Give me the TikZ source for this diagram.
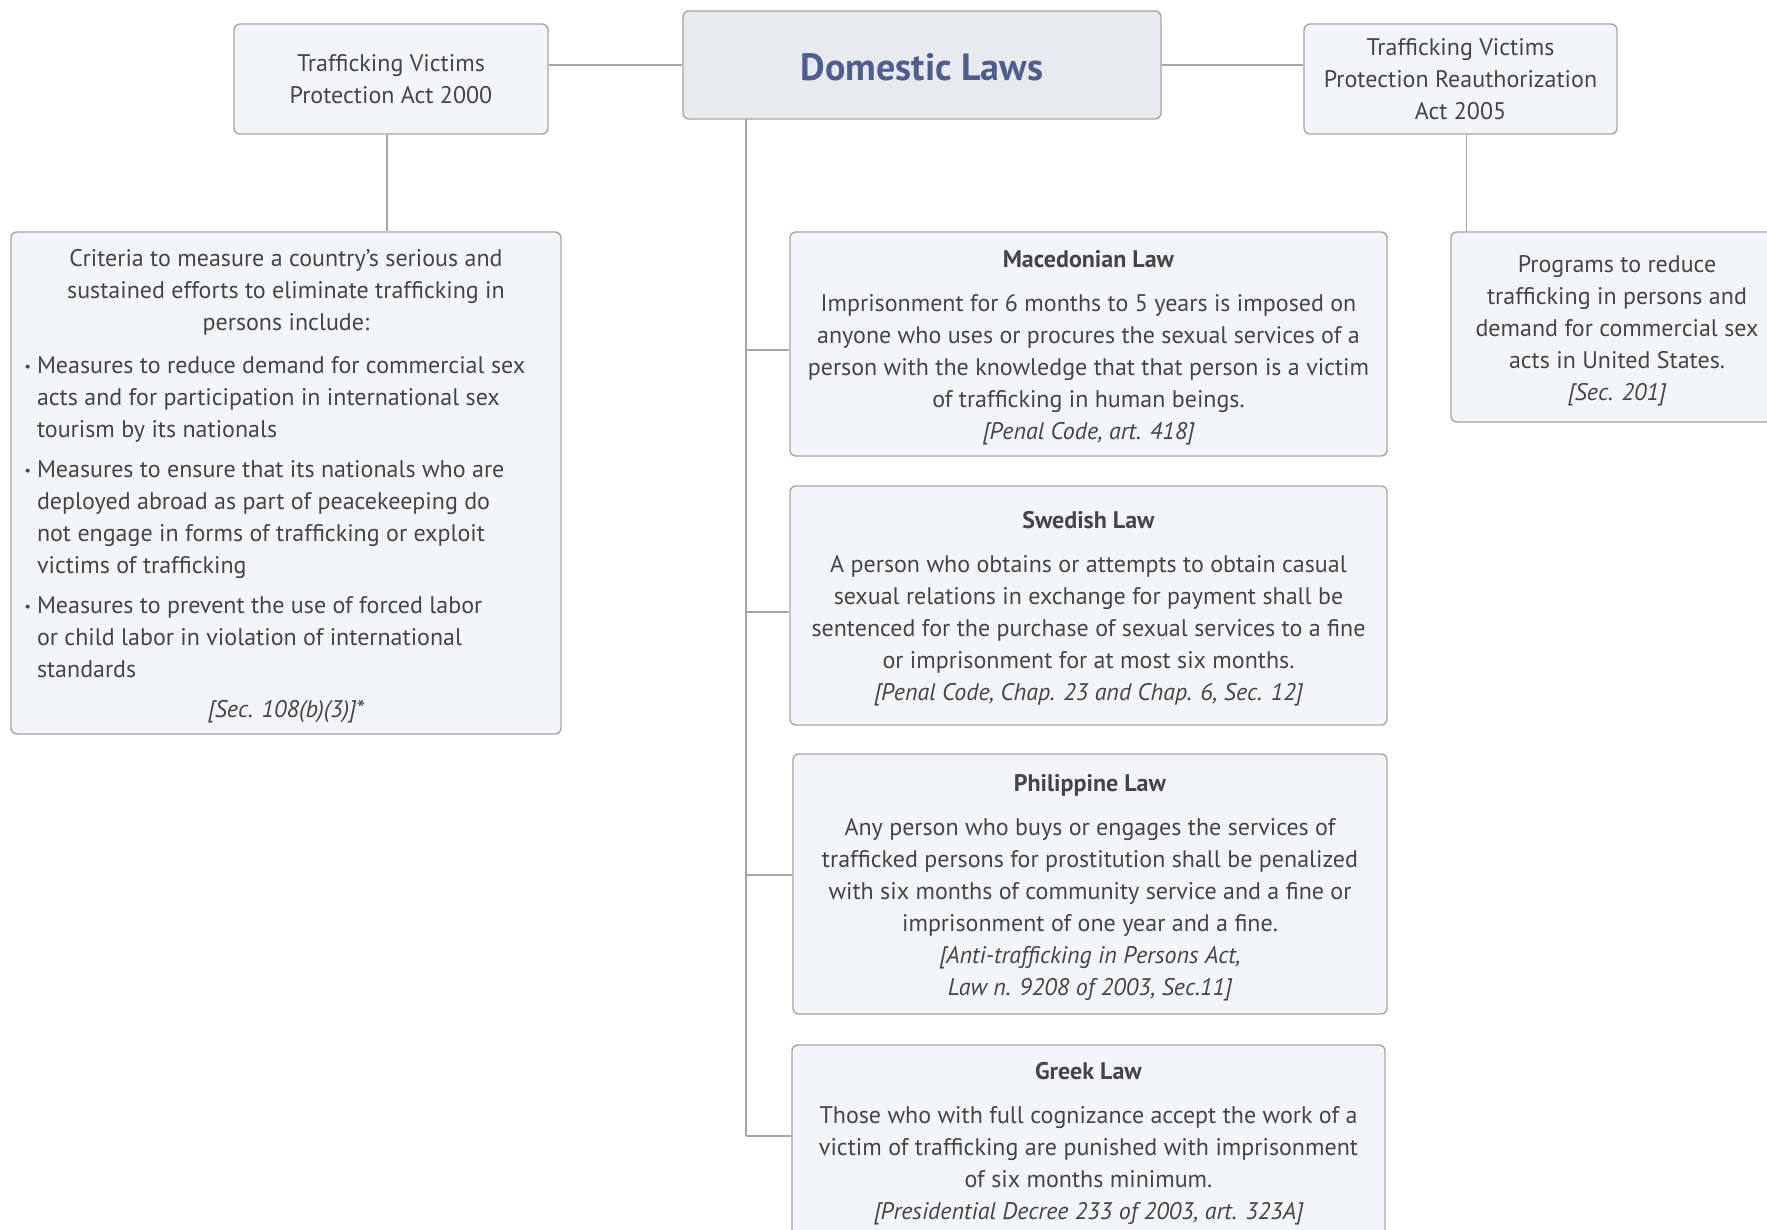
\documentclass[tikz,border=0pt]{standalone}
\usepackage{fontspec}
\setmainfont{PT Sans}

\definecolor{linegray}{HTML}{A6A6A6}
\definecolor{boxfill}{HTML}{F4F5F9}
\definecolor{rootfill}{HTML}{E9EAF0}
\definecolor{textgray}{HTML}{454545}
\definecolor{rootblue}{HTML}{4F5E8F}

\newcommand{\itemdot}{\llap{\raisebox{1pt}{\fontsize{7}{7}\selectfont •}\hspace{3pt}}}
\newcommand{\topstrut}{\rule{0pt}{12pt}}

\tikzset{
    lawbox/.style={draw=linegray, line width=0.7pt, fill=boxfill, rounded corners=3pt,
        text=textgray, align=center, font=\fontsize{12}{16}\selectfont},
    link/.style={draw=linegray, line width=0.6pt}
}

\begin{document}
\begin{tikzpicture}[x=0.5pt, y=-0.5pt]

    \useasboundingbox (0,0) rectangle (1767,1230);

    \node [lawbox, fill=rootfill, minimum width=239pt, minimum height=54pt,
        text=rootblue, font=\fontsize{19}{22}\selectfont\bfseries] (root) at (922,65)
        {\rule{0pt}{16pt}Domestic Laws};

    \node [lawbox, minimum width=157pt, minimum height=55pt] (tvpa) at (391,79)
        {Trafficking Victims\\Protection Act 2000};
    \node [lawbox, minimum width=156.5pt, minimum height=55pt] (tvpra) at (1460.5,79)
        {Trafficking Victims\\Protection Reauthorization\\Act 2005};

    \node [lawbox, align=left, minimum width=275pt, minimum height=251pt, inner xsep=13pt] (crit) at (286,483)
        {\makebox[249pt]{\topstrut Criteria to measure a country’s serious and}\\
         \makebox[249pt]{sustained efforts to eliminate trafficking in}\\
         \makebox[249pt]{persons include:}\\[5.5pt]
         \itemdot Measures to reduce demand for commercial sex\\
         acts and for participation in international sex\\
         tourism by its nationals\\[4pt]
         \itemdot Measures to ensure that its nationals who are\\
         deployed abroad as part of peacekeeping do\\
         not engage in forms of trafficking or exploit\\
         victims of trafficking\\[4pt]
         \itemdot Measures to prevent the use of forced labor\\
         or child labor in violation of international\\
         standards\\[4pt]
         \makebox[249pt]{\itshape [Sec. 108(b)(3)]*}};

    \node [lawbox, minimum width=166pt, minimum height=95pt] (prog) at (1617,327)
        {\topstrut Programs to reduce\\trafficking in persons and\\demand for commercial sex\\acts in United States.\\
         \itshape [Sec. 201]};

    \node [lawbox, minimum width=298.5pt, minimum height=112pt] (mac) at (1088.5,344)
        {\topstrut\textbf{Macedonian Law}\\[6pt]
         Imprisonment for 6 months to 5 years is imposed on\\
         anyone who uses or procures the sexual services of a\\
         person with the knowledge that that person is a victim\\
         of trafficking in human beings.\\
         \itshape [Penal Code, art. 418]};

    \node [lawbox, minimum width=298.5pt, minimum height=119.5pt] (swe) at (1088.5,605.5)
        {\topstrut\textbf{Swedish Law}\\[6pt]
         A person who obtains or attempts to obtain casual\\
         sexual relations in exchange for payment shall be\\
         sentenced for the purchase of sexual services to a fine\\
         or imprisonment for at most six months.\\
         \itshape [Penal Code, Chap. 23 and Chap. 6, Sec. 12]};

    \node [lawbox, minimum width=297pt, minimum height=130pt] (phi) at (1090,884)
        {\topstrut\textbf{Philippine Law}\\[6pt]
         Any person who buys or engages the services of\\
         trafficked persons for prostitution shall be penalized\\
         with six months of community service and a fine or\\
         imprisonment of one year and a fine.\\
         \itshape [Anti-trafficking in Persons Act,\\
         \itshape Law n. 9208 of 2003, Sec.11]};

    \node [lawbox, minimum width=296.5pt, minimum height=95.5pt] (gre) at (1088.5,1140.5)
        {\topstrut\textbf{Greek Law}\\[6pt]
         Those who with full cognizance accept the work of a\\
         victim of trafficking are punished with imprisonment\\
         of six months minimum.\\
         \itshape [Presidential Decree 233 of 2003, art. 323A]};

    \coordinate (spine) at (746,119);

    \draw [link] (root.west) -- (root.west -| tvpa.east);
    \draw [link] (root.east) -- (root.east -| tvpra.west);
    \draw [link] ([xshift=-2pt]tvpa.south) -- ([xshift=-2pt]tvpa.south |- crit.north);
    \draw [link] ([xshift=3pt]tvpra.south) -- ([xshift=3pt]tvpra.south |- prog.north);
    \draw [link] (spine) -- (spine |- 0,1136);
    \foreach \n/\dy in {mac/-3pt, swe/-3.25pt, phi/4.5pt, gre/2.25pt}
        \draw [link] ([yshift=\dy]\n.west -| spine) -- ([yshift=\dy]\n.west);

\end{tikzpicture}
\end{document}
